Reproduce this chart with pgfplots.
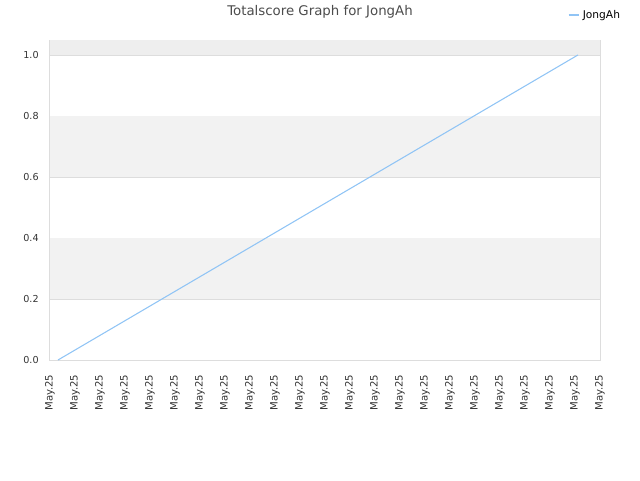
\documentclass[border=0pt]{standalone}
\usepackage{fontspec}
\setmainfont{DejaVu Sans}
\usepackage{pgfplots}
\pgfplotsset{compat=1.18}
\definecolor{lineblue}{HTML}{90C4F5}
\definecolor{bandgray}{HTML}{F2F2F2}
\definecolor{topgray}{HTML}{EEEEEE}
\definecolor{gridgray}{HTML}{DDDDDD}
\definecolor{textgray}{HTML}{333333}
\begin{document}
\begin{tikzpicture}[x=1pt,y=1pt]
% 640x480 px page, 1px = 0.75pt; axis origin at px (50,360)
\begin{axis}[
    set layers,
    scale only axis,
    width=412.5pt, height=240pt,
    xmin=0, xmax=22,
    ymin=0, ymax=1.049,
    xtick={0,1,...,22},
    xticklabels={May.25,May.25,May.25,May.25,May.25,May.25,May.25,May.25,May.25,May.25,May.25,May.25,May.25,May.25,May.25,May.25,May.25,May.25,May.25,May.25,May.25,May.25,May.25},
    x tick label style={yshift=-7.5pt, rotate=90, anchor=east, font=\fontsize{7.6}{8}\selectfont, text=textgray},
    ytick={0,0.2,0.4,0.6,0.8,1.0},
    yticklabel style={xshift=-5pt, font=\fontsize{7.2}{8}\selectfont, text=textgray,
        /pgf/number format/fixed, /pgf/number format/fixed zerofill,
        /pgf/number format/precision=1},
    /pgf/number format/assume math mode=true,
    ymajorgrids,
    major grid style={gridgray, line width=0.6pt},
    major tick length=0pt,
    axis line style={gridgray, line width=0.75pt},
    legend style={draw=none, fill=none, at={(1.049,1.078)}, anchor=east,
        font=\fontsize{8}{9}\selectfont, text=black},
    legend image code/.code={\draw[#1, line width=1.2pt] (-3.75pt,0pt) -- (4.25pt,0pt);},
]
\fill[bandgray, on layer=axis background] (axis cs:0,0.2) rectangle (axis cs:22,0.4);
\fill[bandgray, on layer=axis background] (axis cs:0,0.6) rectangle (axis cs:22,0.8);
\fill[topgray, on layer=axis background] (axis cs:0,1.0) rectangle (axis cs:22,1.049);
\addplot[lineblue, line width=0.8pt] coordinates {(0.32,0) (21.12,1)};
\addlegendentry{JongAh}
\end{axis}
\node[text=black!70, font=\fontsize{10}{12}\selectfont] at (202.5,261) {Totalscore Graph for JongAh};
\path (-37.5,270) rectangle (442.5,-90);
\end{tikzpicture}
\end{document}
